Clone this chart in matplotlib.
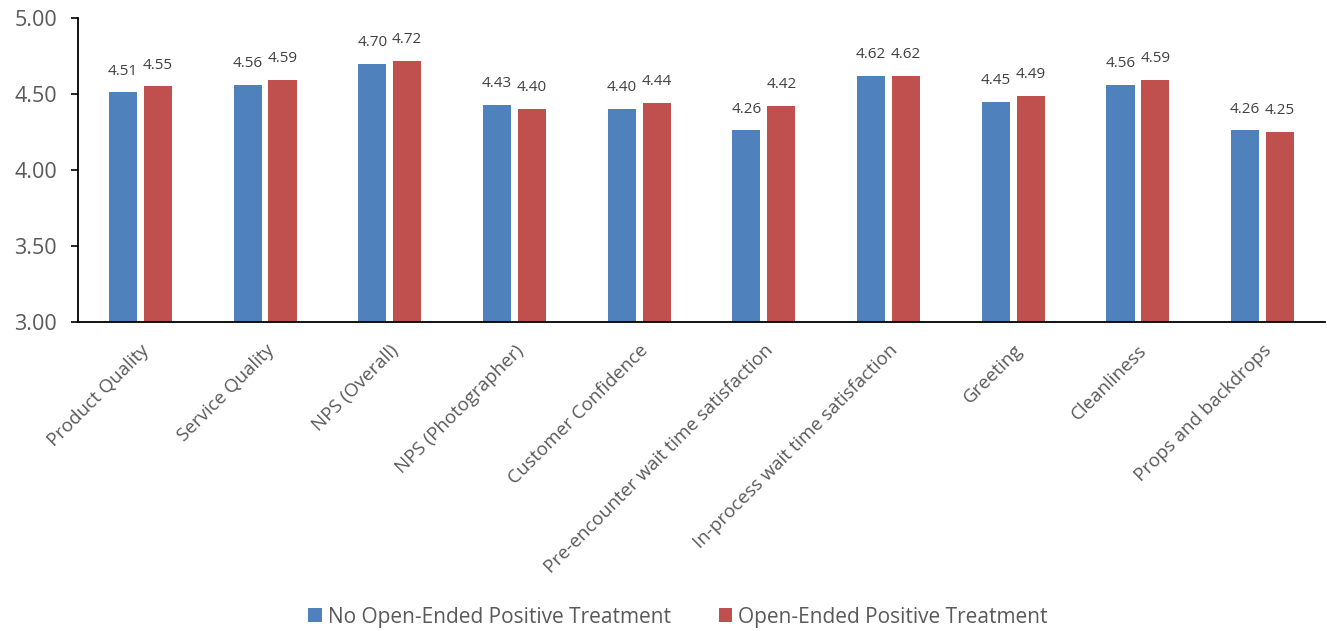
import matplotlib
matplotlib.use("Agg")
import matplotlib.pyplot as plt
import numpy as np

categories = [
    "Product Quality", "Service Quality", "NPS (Overall)", "NPS (Photographer)",
    "Customer Confidence", "Pre-encounter wait time satisfaction",
    "In-process wait time satisfaction", "Greeting", "Cleanliness",
    "Props and backdrops",
]
no_treatment = [4.51, 4.56, 4.70, 4.43, 4.40, 4.26, 4.62, 4.45, 4.56, 4.26]
treatment = [4.55, 4.59, 4.72, 4.40, 4.44, 4.42, 4.62, 4.49, 4.59, 4.25]
series_names = ["No Open-Ended Positive Treatment", "Open-Ended Positive Treatment"]
y_ticks = [3.00, 3.50, 4.00, 4.50, 5.00]

plt.rcParams["font.family"] = ["Open Sans", "DejaVu Sans"]
grey = "#595959"
blue = "#4F81BD"
red = "#C0504D"

fig = plt.figure(figsize=(13.27, 6.31), dpi=100)
ax = fig.add_axes([78 / 1327, 1 - 322 / 631, 1247 / 1327, 304 / 631])

x = np.arange(len(categories))
w = 0.225
off = 0.14
b1 = ax.bar(x - off, no_treatment, w, color=blue, label=series_names[0])
b2 = ax.bar(x + off, treatment, w, color=red, label=series_names[1])

for bars, vals in ((b1, no_treatment), (b2, treatment)):
    for bar, v in zip(bars, vals):
        ax.annotate(f"{v:.2f}", (bar.get_x() + bar.get_width() / 2, v),
                    xytext=(0, 10), textcoords="offset points",
                    ha="center", va="bottom", fontsize=11, color="#404040")

ax.set_ylim(3.0, 5.0)
ax.set_xlim(-0.5, len(categories) - 0.5)
ax.set_yticks(y_ticks)
ax.set_yticklabels([f"{t:.2f}" for t in y_ticks], fontsize=15.5, color=grey)
ax.set_xticks(x)
ax.set_xticklabels(categories, rotation=45, ha="right", rotation_mode="anchor",
                   fontsize=13.5, color=grey)
ax.tick_params(axis="x", length=0, pad=14)
ax.tick_params(axis="y", length=5, width=1.2, color="black", pad=10)

for s in ("top", "right"):
    ax.spines[s].set_visible(False)
for s in ("left", "bottom"):
    ax.spines[s].set_color("black")
    ax.spines[s].set_linewidth(1.3)

leg = fig.legend(handles=[b1, b2], labels=series_names, loc="center",
                 bbox_to_anchor=(678 / 1327, 1 - 617 / 631), ncol=2,
                 frameon=False, fontsize=15, handlelength=0.65, handleheight=0.65,
                 handletextpad=0.3, columnspacing=2.3)
for t in leg.get_texts():
    t.set_color(grey)

fig.savefig("out.png", dpi=100)
